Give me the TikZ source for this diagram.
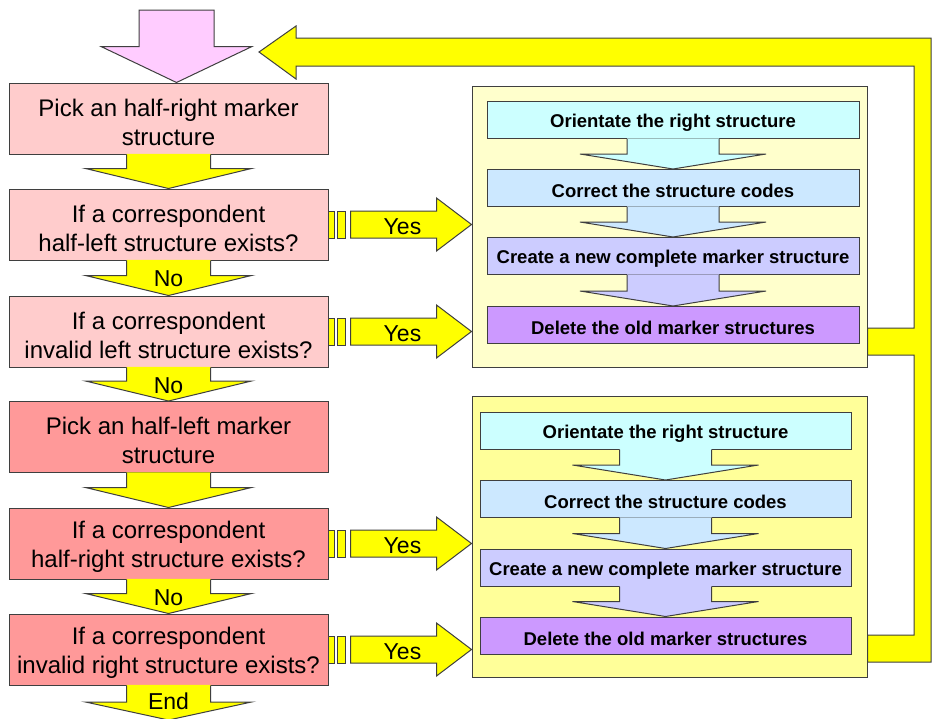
\documentclass[tikz,border=0pt]{standalone}
\usepackage{fontspec}
\setmainfont{Liberation Sans}
\usetikzlibrary{calc}

\definecolor{edge}{HTML}{3F3F3F}
\definecolor{pinkA}{HTML}{FFCCCC}
\definecolor{pinkB}{HTML}{FF9999}
\definecolor{flowY}{HTML}{FFFF00}
\definecolor{startPink}{HTML}{FFCCFF}
\definecolor{creamA}{HTML}{FFFFCC}
\definecolor{creamB}{HTML}{FFFF99}
\definecolor{cyanS}{HTML}{CCFFFF}
\definecolor{blueS}{HTML}{CCE8FF}
\definecolor{lavS}{HTML}{CCCCFF}
\definecolor{violS}{HTML}{CC99FF}

\tikzset{
  stepbox/.style={draw=edge, line width=1pt, minimum width=319pt, minimum height=71pt, inner sep=0pt},
  steptext/.style={inner sep=0pt, align=center, font=\fontsize{24}{29}\selectfont, yshift=-3.5pt},
  panel/.style={draw=edge, line width=1pt, minimum width=395pt, minimum height=281pt, inner sep=0pt},
  task/.style={draw=edge, line width=1pt, minimum height=37pt, inner sep=0pt},
  tasktext/.style={inner sep=0pt, font=\fontsize{18.5}{22}\selectfont\bfseries, yshift=-3pt},
  lbl/.style={font=\fontsize{23}{27}\selectfont, inner sep=0pt},
  outl/.style={draw=edge, line width=1pt, line join=miter},
}

% block arrow pointing down, fused with the box it leaves
% #1 fill, #2 source point, #3 target point, #4 shaft half width, #5 head half width, #6 head length
\newcommand\dropblock[6]{%
  \fill[#1] let \p1=(#2), \p2=(#3) in
    (\x1-#4,\y1+0.6pt) -- (\x1-#4,\y2+#6) -- (\x1-#5,\y2+#6) -- (\x1,\y2)
    -- (\x1+#5,\y2+#6) -- (\x1+#4,\y2+#6) -- (\x1+#4,\y1+0.6pt) -- cycle;
  \draw[outl] let \p1=(#2), \p2=(#3) in
    (\x1-#4,\y1) -- (\x1-#4,\y2+#6) -- (\x1-#5,\y2+#6) -- (\x1,\y2)
    -- (\x1+#5,\y2+#6) -- (\x1+#4,\y2+#6) -- (\x1+#4,\y1);
}

% "Yes" branch: two small bars and a block arrow from a step box to a panel
% #1 source node, #2 target node, #3 label node name
\newcommand\yesblock[3]{%
  \filldraw[outl, fill=flowY] let \p1=(#1.east) in
    (\x1,\y1-13.5pt) rectangle (\x1+6pt,\y1+13.5pt);
  \filldraw[outl, fill=flowY] let \p1=(#1.east) in
    (\x1+9pt,\y1-13.5pt) rectangle (\x1+17pt,\y1+13.5pt);
  \filldraw[outl, fill=flowY] let \p1=(#1.east), \p2=(#2.west) in
    (\x1+22pt,\y1-13.5pt) -- (\x2-35pt,\y1-13.5pt) -- (\x2-35pt,\y1-26.5pt) -- (\x2,\y1)
    -- (\x2-35pt,\y1+26.5pt) -- (\x2-35pt,\y1+13.5pt) -- (\x1+22pt,\y1+13.5pt) -- cycle;
  \path let \p1=(#1.east) in node[lbl] (#3) at (\x1+74pt,\y1-2.5pt) {Yes};
}

\begin{document}
\begin{tikzpicture}[x=1pt, y=-1pt]
  \useasboundingbox (0,0) rectangle (932,718);
  \fill[white] (0,0) rectangle (932,718);

  % main column of steps
  \node[stepbox, fill=pinkA, label={[steptext]center:Pick an half-right marker\\structure}] (b1) at (168.5,118.5) {};
  \node[stepbox, fill=pinkA, label={[steptext]center:If a correspondent\\half-left structure exists?}] (b2) at (168.5,224.5) {};
  \node[stepbox, fill=pinkA, label={[steptext]center:If a correspondent\\invalid left structure exists?}] (b3) at (168.5,331.5) {};
  \node[stepbox, fill=pinkB, label={[steptext]center:Pick an half-left marker\\structure}] (b4) at (168.5,437) {};
  \node[stepbox, fill=pinkB, label={[steptext]center:If a correspondent\\half-right structure exists?}] (b5) at (168.5,543.5) {};
  \node[stepbox, fill=pinkB, label={[steptext]center:If a correspondent\\invalid right structure exists?}] (b6) at (168.5,649.5) {};

  % the two merge panels
  \node[panel, fill=creamA] (pu) at (669.5,226.5) {};
  \node[panel, fill=creamB] (pl) at (669.5,536.5) {};

  \node[task, fill=cyanS, minimum width=372pt, label={[tasktext]center:Orientate the right structure}] (u1) at (673,120) {};
  \node[task, fill=blueS, minimum width=372pt, label={[tasktext]center:Correct the structure codes}] (u2) at (673,188) {};
  \node[task, fill=lavS,  minimum width=372pt, label={[tasktext]center:Create a new complete marker structure}] (u3) at (673,256) {};
  \node[task, fill=violS, minimum width=372pt, label={[tasktext]center:Delete the old marker structures}] (u4) at (673,325) {};

  \node[task, fill=cyanS, minimum width=371pt, label={[tasktext]center:Orientate the right structure}] (l1) at (665.5,430.5) {};
  \node[task, fill=blueS, minimum width=371pt, label={[tasktext]center:Correct the structure codes}] (l2) at (665.5,499) {};
  \node[task, fill=lavS,  minimum width=371pt, label={[tasktext]center:Create a new complete marker structure}] (l3) at (665.5,567.5) {};
  \node[task, fill=violS, minimum width=371pt, label={[tasktext]center:Delete the old marker structures}] (l4) at (665.5,635.5) {};

  % arrows inside the panels
  \dropblock{cyanS}{u1.south}{u2.north}{46pt}{93pt}{15pt}
  \dropblock{blueS}{u2.south}{u3.north}{46pt}{93pt}{15pt}
  \dropblock{lavS}{u3.south}{u4.north}{46pt}{93pt}{15pt}
  \dropblock{cyanS}{l1.south}{l2.north}{46pt}{93pt}{15pt}
  \dropblock{blueS}{l2.south}{l3.north}{46pt}{93pt}{15pt}
  \dropblock{lavS}{l3.south}{l4.north}{46pt}{93pt}{15pt}

  % entry arrow
  \coordinate (entry) at (176.5,10);
  \filldraw[outl, fill=startPink] let \p1=(entry), \p2=(b1.north) in
    (\x1-37.5pt,\y1) -- (\x1-37.5pt,\y2+36pt) -- (\x1-75.5pt,\y2+36pt) -- (\x1,\y2)
    -- (\x1+75.5pt,\y2+36pt) -- (\x1+37.5pt,\y2+36pt) -- (\x1+37.5pt,\y1) -- cycle;

  % main column arrows
  \coordinate (finish) at (168.5,720);
  \dropblock{flowY}{b1.south}{b2.north}{42pt}{83pt}{20pt}
  \dropblock{flowY}{b2.south}{b3.north}{42pt}{83pt}{20pt}
  \dropblock{flowY}{b3.south}{b4.north}{42pt}{83pt}{20pt}
  \dropblock{flowY}{b4.south}{b5.north}{42pt}{83pt}{20pt}
  \dropblock{flowY}{b5.south}{b6.north}{42pt}{83pt}{20pt}
  \dropblock{flowY}{b6.south}{finish}{42pt}{83pt}{18pt}

  \node[lbl] (no1) at ($(b2.south)+(0,18)$) {No};
  \node[lbl] (no2) at ($(b3.south)+(0,18)$) {No};
  \node[lbl] (no3) at ($(b5.south)+(0,18)$) {No};
  \node[lbl] (fin) at ($(b6.south)+(0,16)$) {End};

  % yes branches
  \yesblock{b2}{pu}{y1}
  \yesblock{b3}{pu}{y2}
  \yesblock{b5}{pl}{y3}
  \yesblock{b6}{pl}{y4}

  % return loop from both panels back to the entry
  \coordinate (back) at (259,52);
  \filldraw[outl, fill=flowY]
    ($(pu.east)+(0,101.5)$) -- (914,328) -- (914,66) -- (296,66) -- (296,79) -- (back)
    -- (296,26) -- (296,38) -- (931,38) -- (931,662) -- ($(pl.east)+(0,125.5)$)
    -- ($(pl.east)+(0,98.5)$) -- (914,635) -- (914,355) -- ($(pu.east)+(0,128.5)$) -- cycle;
\end{tikzpicture}
\end{document}
